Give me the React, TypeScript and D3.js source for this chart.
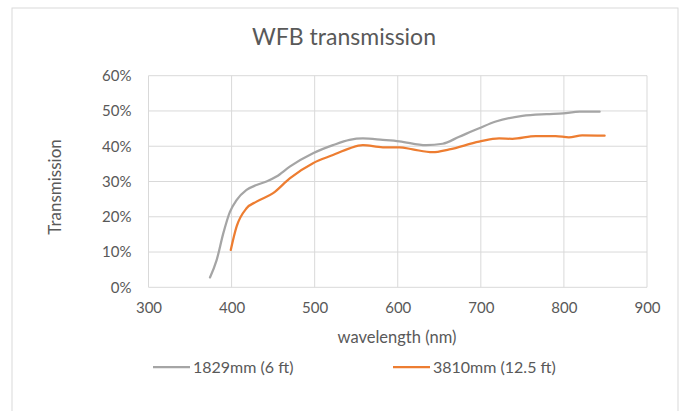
import * as d3 from 'd3'
import { useEffect, useRef } from 'react'

// wavelength (nm) / transmission (fraction)
const wavelength6ft = [374, 382, 390, 398, 406, 418, 430, 442, 454, 470, 498, 522, 542, 558, 582, 602, 634, 654, 674, 698, 718, 750, 779, 799, 819, 843]
const transmission6ft = [0.028, 0.077, 0.153, 0.214, 0.247, 0.276, 0.29, 0.30, 0.314, 0.342, 0.38, 0.403, 0.418, 0.422, 0.418, 0.414, 0.403, 0.407, 0.427, 0.451, 0.47, 0.486, 0.491, 0.493, 0.498, 0.498]

const wavelength12ft = [399, 406, 418, 430, 450, 470, 498, 522, 542, 558, 582, 602, 618, 642, 662, 698, 722, 738, 766, 790, 806, 822, 849]
const transmission12ft = [0.106, 0.172, 0.224, 0.243, 0.267, 0.309, 0.352, 0.375, 0.394, 0.403, 0.397, 0.397, 0.391, 0.383, 0.391, 0.413, 0.422, 0.421, 0.429, 0.429, 0.425, 0.431, 0.43]

const xTicks = [300, 400, 500, 600, 700, 800, 900]
const yTicks = [0, 0.1, 0.2, 0.3, 0.4, 0.5, 0.6]

const seriesNames = ['1829mm (6 ft)', '3810mm (12.5 ft)']
const seriesColors = ['#A5A5A5', '#ED7D31']

const W = 684
const H = 411
const FONT = 'Lato, "Open Sans", sans-serif'
const TEXT = '#595959'
const GRID = '#D9D9D9'

const drawChart = (el: SVGSVGElement) => {
    const svg = d3.select(el)
    svg.selectAll('*').remove()

    const x = d3.scaleLinear().domain([300, 900]).range([148.5, 647])
    const y = d3.scaleLinear().domain([0, 0.6]).range([287.3, 75.7])

    // chart frame
    svg.append('rect')
        .attr('x', 12).attr('y', 8)
        .attr('width', 666).attr('height', 420)
        .attr('fill', '#fff')
        .attr('stroke', GRID)

    svg.append('text')
        .attr('x', 344).attr('y', 45)
        .attr('text-anchor', 'middle')
        .attr('font-family', FONT)
        .attr('font-size', 23)
        .attr('fill', TEXT)
        .text('WFB transmission')

    // gridlines
    svg.append('g')
        .selectAll('line')
        .data(yTicks)
        .join('line')
        .attr('x1', x(300)).attr('x2', x(900))
        .attr('y1', d => y(d)).attr('y2', d => y(d))
        .attr('stroke', GRID)

    svg.append('g')
        .selectAll('line')
        .data(xTicks)
        .join('line')
        .attr('x1', d => x(d)).attr('x2', d => x(d))
        .attr('y1', y(0)).attr('y2', y(0.6))
        .attr('stroke', GRID)

    // axes (labels only, Excel style)
    const xAxis = svg.append('g')
        .attr('transform', `translate(0,${y(0)})`)
        .call(d3.axisBottom(x).tickValues(xTicks).tickSize(0).tickPadding(15).tickFormat(d3.format('d')))
    const yAxis = svg.append('g')
        .attr('transform', `translate(${x(300)},0)`)
        .call(d3.axisLeft(y).tickValues(yTicks).tickSize(0).tickPadding(17).tickFormat(d3.format('.0%')))

    for (const ax of [xAxis, yAxis]) {
        ax.select('.domain').remove()
        ax.selectAll('text')
            .attr('font-family', FONT)
            .attr('font-size', 15)
            .attr('fill', TEXT)
    }

    svg.append('text')
        .attr('x', 397).attr('y', 343)
        .attr('text-anchor', 'middle')
        .attr('font-family', FONT)
        .attr('font-size', 16.5)
        .attr('fill', TEXT)
        .text('wavelength (nm)')

    svg.append('text')
        .attr('transform', 'translate(61,187) rotate(-90)')
        .attr('text-anchor', 'middle')
        .attr('font-family', FONT)
        .attr('font-size', 17)
        .attr('fill', TEXT)
        .text('Transmission')

    const line = d3.line<[number, number]>()
        .x(d => x(d[0]))
        .y(d => y(d[1]))
        .curve(d3.curveMonotoneX)

    const series: [number, number][][] = [
        wavelength6ft.map((w, i) => [w, transmission6ft[i]]),
        wavelength12ft.map((w, i) => [w, transmission12ft[i]]),
    ]

    series.forEach((s, i) => {
        svg.append('path')
            .datum(s)
            .attr('fill', 'none')
            .attr('stroke', seriesColors[i])
            .attr('stroke-width', 2.25)
            .attr('stroke-linecap', 'round')
            .attr('d', line)
    })

    // legend
    const legendX = [153, 393]
    seriesNames.forEach((name, i) => {
        svg.append('line')
            .attr('x1', legendX[i]).attr('x2', legendX[i] + 37)
            .attr('y1', 367).attr('y2', 367)
            .attr('stroke', seriesColors[i])
            .attr('stroke-width', 2.25)
        svg.append('text')
            .attr('x', legendX[i] + 40).attr('y', 372.5)
            .attr('font-family', FONT)
            .attr('font-size', 16)
            .attr('fill', TEXT)
            .text(name)
    })
}

const App = () => {
    const ref = useRef<SVGSVGElement>(null)

    useEffect(() => {
        if (ref.current) drawChart(ref.current)
    }, [])

    return (
        <div style={{ position: 'absolute', left: 0, top: 0, width: W, height: H, background: '#fff' }}>
            <svg ref={ref} width={W} height={H} style={{ display: 'block' }}></svg>
        </div>
    )
}

export default App
